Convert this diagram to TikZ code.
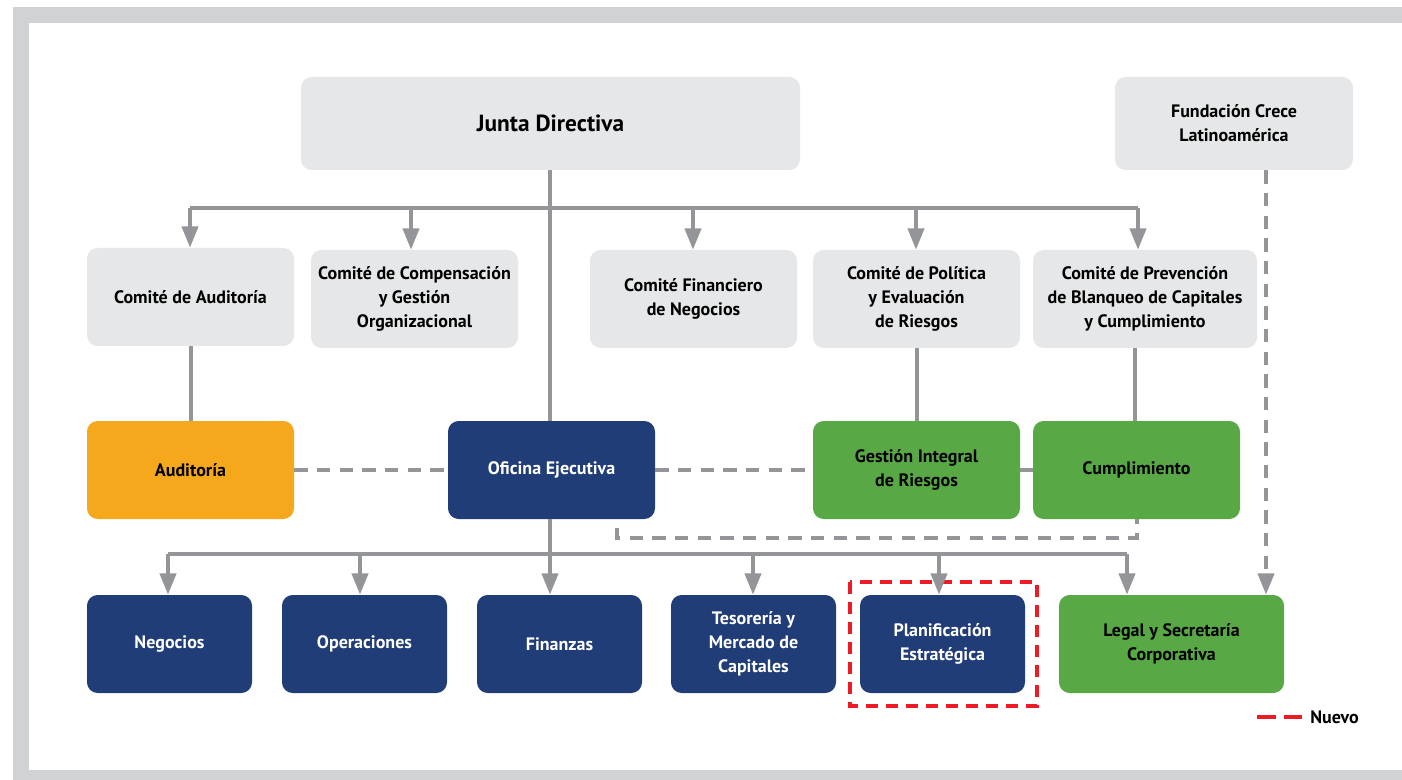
\documentclass[tikz,border=0pt]{standalone}
\usepackage{fontspec}
\setmainfont{PT Sans}
\usetikzlibrary{arrows.meta}
\definecolor{frame}{HTML}{D1D2D4}
\definecolor{lgray}{HTML}{E6E7E8}
\definecolor{navy}{HTML}{213D77}
\definecolor{orng}{HTML}{F5A81C}
\definecolor{grn}{HTML}{58A845}
\definecolor{conn}{HTML}{939598}
\definecolor{redd}{HTML}{ED1C24}
\tikzset{
  box/.style={rounded corners=8pt, inner sep=0pt, align=center, font=\bfseries\fontsize{13.5}{18}\selectfont},
  graybox/.style={box, fill=lgray, text=black},
  navybox/.style={box, fill=navy, text=white},
  orangebox/.style={box, fill=orng, text=black},
  greenbox/.style={box, fill=grn, text=black},
  link/.style={draw=conn, line width=3pt},
  arr/.style={link, -{Triangle[width=12pt,length=16pt]}},
  dlink/.style={draw=conn, line width=3pt, dash pattern=on 10pt off 7pt},
  reddash/.style={draw=redd, line width=2.6pt, dash pattern=on 9pt off 6pt}
}
\begin{document}
\begin{tikzpicture}[x=0.75pt,y=-0.75pt]
\useasboundingbox (0,0) rectangle (1402,780);
\fill[frame] (13,7) rectangle (1402,780);
\fill[white] (29,23) rectangle (1402,770);
% top
\node[graybox, minimum width=499*0.75pt, minimum height=93*0.75pt, font=\bfseries\fontsize{17.5}{20}\selectfont] (junta) at (550.5,123.5) {Junta Directiva};
\node[graybox, minimum width=238*0.75pt, minimum height=93*0.75pt] (fund) at (1234,123.5) {Fundación Crece\\Latinoamérica};
% committees
\node[graybox, minimum width=207*0.75pt, minimum height=98*0.75pt] (caud) at (190.5,297) {Comité de Auditoría};
\node[graybox, minimum width=207*0.75pt, minimum height=98*0.75pt] (ccomp) at (414.5,299) {Comité de Compensación\\y Gestión\\Organizacional};
\node[graybox, minimum width=207*0.75pt, minimum height=98*0.75pt] (cfin) at (693.5,299) {Comité Financiero\\de Negocios};
\node[graybox, minimum width=207*0.75pt, minimum height=98*0.75pt] (cpol) at (916.5,299) {Comité de Política\\y Evaluación\\de Riesgos};
\node[graybox, minimum width=224*0.75pt, minimum height=98*0.75pt] (cprev) at (1145,299) {Comité de Prevención\\de Blanqueo de Capitales\\y Cumplimiento};
% middle
\node[orangebox, minimum width=207*0.75pt, minimum height=98*0.75pt] (aud) at (190.5,470) {Auditoría};
\node[navybox, minimum width=207*0.75pt, minimum height=98*0.75pt] (ofi) at (551.5,470) {Oficina Ejecutiva};
\node[greenbox, minimum width=207*0.75pt, minimum height=98*0.75pt] (gest) at (916.5,470) {Gestión Integral\\de Riesgos};
\node[greenbox, minimum width=207*0.75pt, minimum height=98*0.75pt] (cump) at (1136.5,470) {Cumplimiento};
% bottom
\node[navybox, minimum width=165*0.75pt, minimum height=98*0.75pt] (neg) at (169.5,644) {Negocios};
\node[navybox, minimum width=165*0.75pt, minimum height=98*0.75pt] (ope) at (364.5,644) {Operaciones};
\node[navybox, minimum width=165*0.75pt, minimum height=98*0.75pt] (finz) at (559.5,644) {Finanzas};
\node[navybox, minimum width=165*0.75pt, minimum height=98*0.75pt] (tes) at (753.5,644) {Tesorería y\\Mercado de\\Capitales};
\node[navybox, minimum width=165*0.75pt, minimum height=98*0.75pt] (plan) at (942.5,644) {Planificación\\Estratégica};
\node[greenbox, minimum width=225*0.75pt, minimum height=98*0.75pt] (legal) at (1171.5,644) {Legal y Secretaría\\Corporativa};
% red dashed frame
\draw[reddash] (850,582) rectangle (1037,706);
% coordinates for bus lines
\coordinate (jb) at (550,208);
\coordinate (ob) at (550,554);
% junta bus
\draw[link] (junta.south -| jb) -- (ofi.north -| jb);
\draw[link] (190,208) -- (1138,208);
\draw[arr] (190,208) -- (caud.north -| 190,0);
\draw[arr] (411,208) -- (ccomp.north -| 411,0);
\draw[arr] (693,208) -- (cfin.north -| 693,0);
\draw[arr] (916,208) -- (cpol.north -| 916,0);
\draw[arr] (1138,208) -- (cprev.north -| 1138,0);
% committee to units
\draw[link] (caud.south) -- (aud.north);
\draw[link] (cpol.south) -- (gest.north);
\draw[link] (cprev.south -| 1135,0) -- (cump.north -| 1135,0);
% dashed horizontals
\draw[dlink] (aud.east) -- (ofi.west);
\draw[dlink] (ofi.east) -- (gest.west);
\draw[dlink] (gest.east) -- (cump.west);
\draw[dlink] (617,528) -- (617,538) -- (1137,538) -- (cump.south -| 1137,0);
% oficina bus
\draw[link] (ofi.south -| ob) -- (ob);
\draw[link] (168,554) -- (1127,554);
\draw[arr] (168,554) -- (neg.north -| 168,0);
\draw[arr] (360,554) -- (ope.north -| 360,0);
\draw[arr] (550,554) -- (finz.north -| 550,0);
\draw[arr] (753,554) -- (tes.north -| 753,0);
\draw[arr] (939,554) -- (plan.north -| 939,0);
\draw[arr] (1127,554) -- (legal.north -| 1127,0);
% fundacion dashed
\draw[dlink, -{Triangle[width=12pt,length=16pt]}] (fund.south -| 1266,0) -- (legal.north -| 1266,0);
% legend
\draw[reddash, dash pattern=on 14pt off 6pt] (1257,717) -- (1303,717);
\node[anchor=west, inner sep=0pt, font=\bfseries\fontsize{13.5}{14}\selectfont] (leg) at (1310,717) {Nuevo};
\end{tikzpicture}
\end{document}
